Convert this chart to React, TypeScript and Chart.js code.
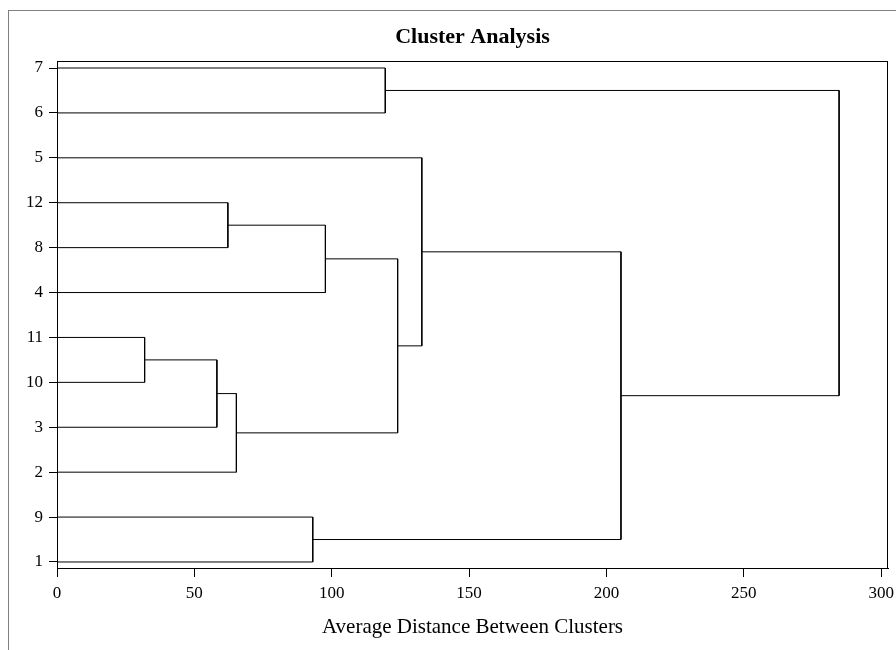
import React, { useEffect, useRef } from 'react';
import { Chart, registerables } from 'chart.js';

Chart.register(...registerables);

const TITLE = 'Cluster Analysis';
const X_TITLE = 'Average Distance Between Clusters';
// leaves listed from bottom to top of the y axis
const LEAF_ORDER = ['1', '9', '2', '3', '10', '11', '4', '8', '12', '5', '6', '7'];
// merges: C1..C11 are the clusters formed, in this order
const MERGE_LEFT = ['11', 'C1', 'C2', '12', 'C4', 'C5', '9', '7', '5', 'C9', 'C8'];
const MERGE_RIGHT = ['10', '3', '2', '8', '4', 'C3', '1', '6', 'C6', 'C7', 'C10'];
const MERGE_HEIGHT = [31.9, 58.2, 65.3, 62.2, 97.7, 124.0, 93.1, 119.5, 132.8, 205.3, 284.7];
const X_TICKS = [0, 50, 100, 150, 200, 250, 300];

const FONT = 'Liberation Serif, Times New Roman, serif';

function buildDatasets() {
  const pos: Record<string, { x: number; y: number }> = {};
  LEAF_ORDER.forEach((l, i) => {
    pos[l] = { x: 0, y: i + 1 };
  });
  return MERGE_HEIGHT.map((h, i) => {
    const a = pos[MERGE_LEFT[i]];
    const b = pos[MERGE_RIGHT[i]];
    pos['C' + (i + 1)] = { x: h, y: (a.y + b.y) / 2 };
    return {
      data: [
        { x: a.x, y: a.y },
        { x: h, y: a.y },
        { x: h, y: b.y },
        { x: b.x, y: b.y },
      ],
      showLine: true,
      borderColor: '#000',
      borderWidth: 1,
      pointRadius: 0,
      pointHoverRadius: 0,
      tension: 0,
      fill: false,
    };
  });
}

const boxPlugin = {
  id: 'plotBox',
  afterDraw(chart: any) {
    const { ctx, chartArea } = chart;
    ctx.save();
    ctx.strokeStyle = '#000';
    ctx.lineWidth = 1;
    ctx.strokeRect(
      chartArea.left + 0.5,
      chartArea.top + 0.5,
      chartArea.right - chartArea.left - 1,
      chartArea.bottom - chartArea.top
    );
    ctx.restore();
  },
};

export default function App() {
  const ref = useRef<HTMLCanvasElement | null>(null);
  useEffect(() => {
    if (!ref.current) return;
    const chart = new Chart(ref.current, {
      type: 'scatter',
      data: { datasets: buildDatasets() as any },
      options: {
        animation: false,
        responsive: false,
        events: [],
        layout: { padding: { left: 0, right: 8, top: 0, bottom: 0 } },
        plugins: {
          legend: { display: false },
          tooltip: { enabled: false },
          title: {
            display: true,
            text: TITLE,
            fullSize: false,
            color: '#000',
            font: { family: FONT, size: 22, weight: 'bold', lineHeight: 1.2 },
            padding: { top: 24.3, bottom: 10.3 },
          },
        },
        scales: {
          x: {
            type: 'linear',
            min: 0,
            max: 302.5,
            afterBuildTicks: (s: any) => {
              s.ticks = X_TICKS.map((v) => ({ value: v }));
            },
            afterFit: (s: any) => {
              s.height = 82;
              s.paddingLeft = 0;
              s.paddingRight = 0;
            },
            ticks: {
              color: '#000',
              font: { family: FONT, size: 17 },
              padding: 6,
              maxRotation: 0,
              autoSkip: false,
            },
            grid: { drawOnChartArea: false, drawTicks: true, tickLength: 9, color: '#000' },
            border: { display: true, color: '#000' },
            title: {
              display: true,
              text: X_TITLE,
              color: '#000',
              font: { family: FONT, size: 21, lineHeight: 1.2 },
              padding: { top: 0, bottom: 10 },
            },
          },
          y: {
            type: 'linear',
            min: 0.866,
            max: 12.156,
            afterBuildTicks: (s: any) => {
              s.ticks = LEAF_ORDER.map((_, i) => ({ value: i + 1 }));
            },
            afterFit: (s: any) => {
              s.width = 57;
              s.paddingTop = 0;
              s.paddingBottom = 0;
            },
            ticks: {
              color: '#000',
              font: { family: FONT, size: 17 },
              padding: 6,
              autoSkip: false,
              callback: (v: any) => LEAF_ORDER[Math.round(Number(v)) - 1] ?? '',
            },
            grid: { drawOnChartArea: false, drawTicks: true, tickLength: 8, color: '#000' },
            border: { display: true, color: '#000' },
          },
        },
      },
      plugins: [boxPlugin],
    });
    return () => chart.destroy();
  }, []);

  return (
    <div style={{ position: 'fixed', left: 0, top: 0, width: 896, height: 650, background: '#fff' }}>
      <div
        style={{
          position: 'absolute',
          left: 8,
          top: 10,
          right: 0,
          bottom: 0,
          borderLeft: '1px solid #808080',
          borderTop: '1px solid #808080',
        }}
      />
      <canvas ref={ref} width={896} height={650} style={{ position: 'absolute', left: 0, top: 0, width: 896, height: 650 }} />
    </div>
  );
}
